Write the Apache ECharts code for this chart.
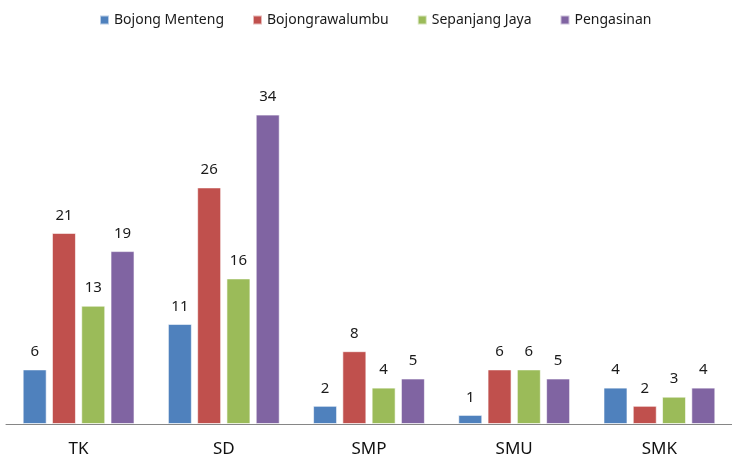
<!DOCTYPE html>
<html><head><meta charset="utf-8">
<script src="https://cdn.jsdelivr.net/npm/echarts@6/dist/echarts.min.js"></script>
<style>html,body{margin:0;padding:0;background:#fff}#c{width:732px;height:463px}</style>
</head><body><div id="c"></div>
<script>
const categories = ['TK', 'SD', 'SMP', 'SMU', 'SMK'];
const seriesNames = ['Bojong Menteng', 'Bojongrawalumbu', 'Sepanjang Jaya', 'Pengasinan'];
const bojongMenteng = [6, 11, 2, 1, 4];
const bojongrawalumbu = [21, 26, 8, 6, 2];
const sepanjangJaya = [13, 16, 4, 6, 3];
const pengasinan = [19, 34, 5, 5, 4];
const colors = ['#4F81BD', '#C0504D', '#9BBB59', '#8064A2'];
const values = [bojongMenteng, bojongrawalumbu, sepanjangJaya, pengasinan];
const font = 'Noto Sans';
const chart = echarts.init(document.getElementById('c'));
chart.setOption({
  animation: false,
  color: colors,
  legend: {
    top: 8, left: 94, itemWidth: 9, itemHeight: 9, itemGap: 28,
    icon: 'rect',
    textStyle: { fontFamily: font, fontSize: 14, color: '#1a1a1a' },
    data: seriesNames
  },
  grid: { left: 6, width: 733, top: 60, bottom: 39 },
  xAxis: {
    type: 'category', data: categories,
    axisLine: { lineStyle: { color: '#868686', width: 1 } },
    axisTick: { show: false },
    axisLabel: { fontFamily: font, fontSize: 17, color: '#111', margin: 17 }
  },
  yAxis: { type: 'value', min: 0, max: 40, show: false, splitLine: { show: false } },
  series: values.map((v, i) => ({
    name: seriesNames[i], type: 'bar', data: v, barWidth: 24, barGap: '22%',
    itemStyle: { color: colors[i], borderColor: 'rgba(255,255,255,0.6)', borderWidth: 1 },
    label: { show: true, position: 'top', distance: 10, fontFamily: font, fontSize: 15, color: '#1a1a1a' }
  }))
});
</script></body></html>
